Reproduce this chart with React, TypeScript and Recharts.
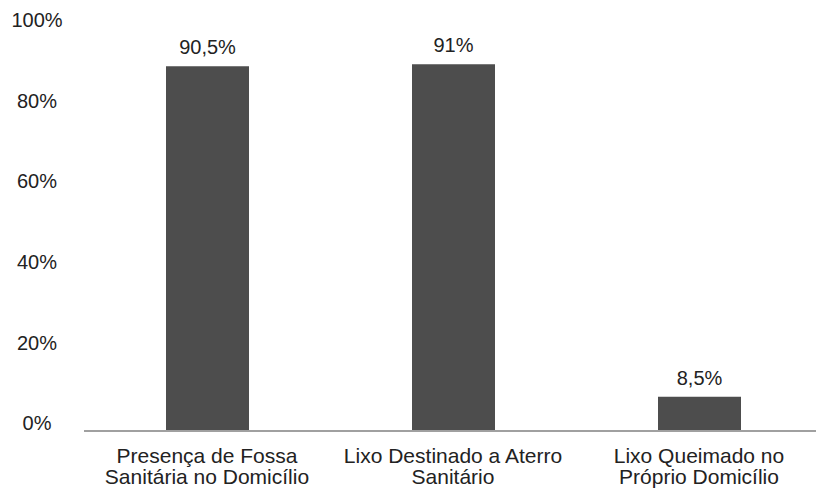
import React from 'react';
import { BarChart, Bar, XAxis, YAxis, LabelList } from 'recharts';

const categories = [
  'Presença de Fossa\nSanitária no Domicílio',
  'Lixo Destinado a Aterro\nSanitário',
  'Lixo Queimado no\nPróprio Domicílio',
];
const percentages = [90.5, 91, 8.5];
const yTicks = [0, 20, 40, 60, 80, 100];

const data = categories.map((name, i) => ({ name, value: percentages[i] }));

const fmt = (v: number) => `${String(v).replace('.', ',')}%`;

const YTick = (props: any) => {
  const { y, payload } = props;
  return (
    <text x={37} y={y - 6} textAnchor="middle" dominantBaseline="middle" fontSize={20} fill="#222">
      {payload.value}%
    </text>
  );
};

const XTick = (props: any) => {
  const { x, y, payload } = props;
  const lines = String(payload.value).split('\n');
  return (
    <g>
      {lines.map((line, i) => (
        <text key={i} x={x} y={y + 18 + i * 21} textAnchor="middle" dominantBaseline="middle" fontSize={21} fill="#222">
          {line}
        </text>
      ))}
    </g>
  );
};

export default function App() {
  return (
    <div style={{ position: 'absolute', left: 0, top: 0, fontFamily: '"Liberation Sans", Arial, sans-serif' }}>
      <BarChart width={816} height={502} data={data} margin={{ top: 28, right: -6, bottom: 0, left: 0 }} barSize={83}>
        <XAxis
          dataKey="name"
          interval={0}
          tick={<XTick />}
          tickLine={false}
          axisLine={{ stroke: '#a0a0a0', strokeWidth: 2 }}
          height={71}
        />
        <YAxis
          domain={[0, 100]}
          ticks={yTicks}
          tick={<YTick />}
          tickLine={false}
          axisLine={false}
          width={84}
        />
        <Bar dataKey="value" fill="#4d4d4d" isAnimationActive={false}>
          <LabelList dataKey="value" position="top" offset={12} formatter={(v: any) => fmt(v)} fontSize={20} fill="#222" />
        </Bar>
      </BarChart>
    </div>
  );
}
